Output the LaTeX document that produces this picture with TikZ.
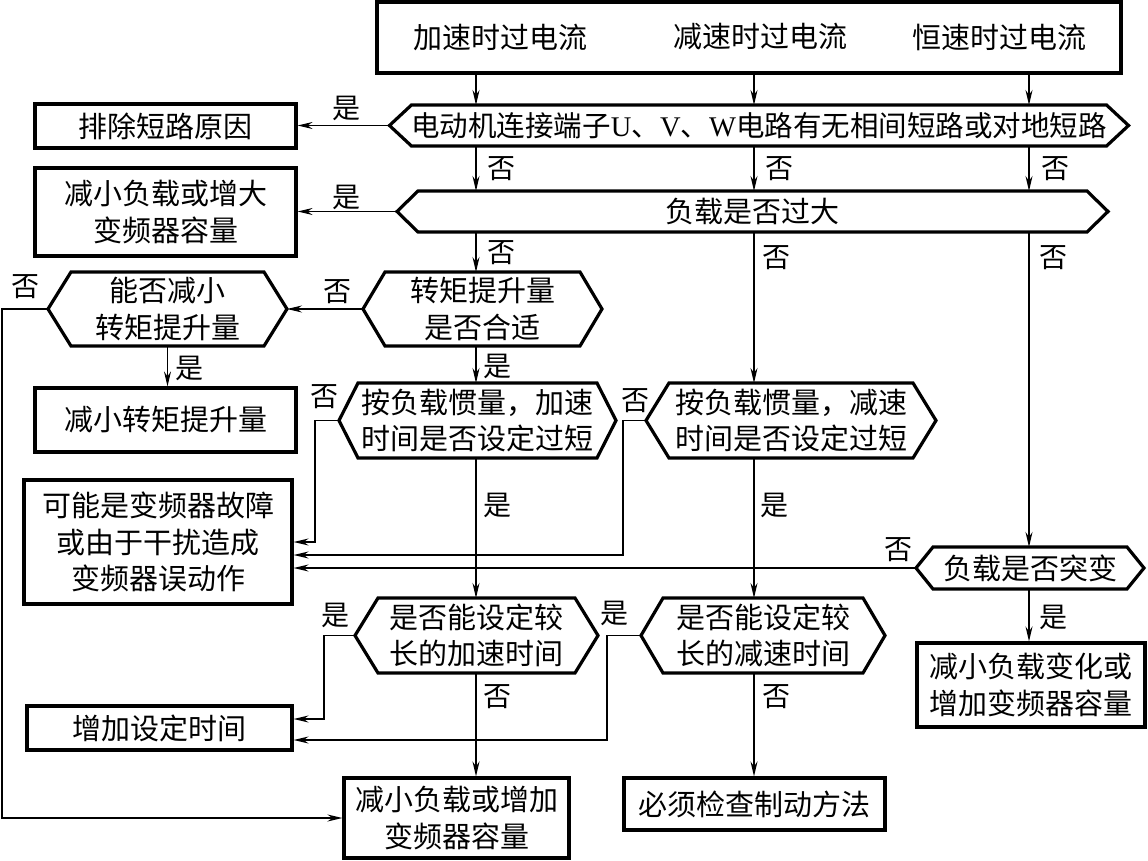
\documentclass[tikz,border=0pt]{standalone}
\usepackage{fontspec}
\setmainfont{Liberation Serif}
\newfontfamily\cjk{Noto Sans CJK SC}
\newfontfamily\lat{Liberation Serif}
\usetikzlibrary{arrows.meta}
\newcommand\hexd[7]{%
  \node[hexbody, minimum width=#4pt, minimum height=#5pt] (#1) at (#2,#3) {#7};
  \coordinate (#1L) at ([xshift=-#6pt]#1.west);
  \coordinate (#1R) at ([xshift=#6pt]#1.east);
  \draw[hexline] (#1.north west) -- (#1.north east) -- (#1R) -- (#1.south east) -- (#1.south west) -- (#1L) -- cycle;
}
\begin{document}
\begin{tikzpicture}[x=1pt,y=-1pt,
  txt/.style={font=\cjk\fontsize{29}{36.5}\selectfont, align=center, inner sep=0pt},
  boxn/.style={txt, draw, line width=3.2pt, rectangle},
  hexbody/.style={txt, outer sep=0pt},
  hexline/.style={line width=3.2pt, line join=miter},
  conn/.style={line width=1.3pt},
  arr/.style={conn, -{Stealth[length=15pt,width=7pt,inset=5pt]}},
  lbl/.style={font=\cjk\fontsize{28}{30}\selectfont, inner sep=0pt}]
\useasboundingbox (0,0) rectangle (1148,861);

% column coordinates
\coordinate (cA) at (476,0);
\coordinate (cB) at (754,0);
\coordinate (cC) at (1029,0);
\coordinate (xL) at (2,0);
\coordinate (xD5) at (315,0);
\coordinate (xD6) at (623,0);
\coordinate (xD8) at (324,0);
\coordinate (xD9) at (607,0);

% top box
\node[boxn, minimum width=744pt, minimum height=71pt] (top) at (749,37.5) {};
\node[txt] (t1) at (500,37) {加速时过电流};
\node[txt] (t2) at (760,37) {减速时过电流};
\node[txt] (t3) at (999,37) {恒速时过电流};

% rectangles
\node[boxn, minimum width=261pt, minimum height=44pt] (b1) at (165.5,126) {排除短路原因};
\node[boxn, minimum width=261pt, minimum height=88pt] (b2) at (165.5,212) {减小负载或增大\\变频器容量};
\node[boxn, minimum width=261pt, minimum height=64pt] (b3) at (165.5,420) {减小转矩提升量};
\node[boxn, minimum width=268pt, minimum height=124pt] (b4) at (158,542) {可能是变频器故障\\或由于干扰造成\\变频器误动作};
\node[boxn, minimum width=228pt, minimum height=84pt] (b5) at (1031,685) {减小负载变化或\\增加变频器容量};
\node[boxn, minimum width=265pt, minimum height=44pt] (b6) at (159.5,728) {增加设定时间};
\node[boxn, minimum width=225pt, minimum height=80pt] (b7) at (456.5,818) {减小负载或增加\\变频器容量};
\node[boxn, minimum width=261pt, minimum height=52pt] (b8) at (754.5,804) {必须检查制动方法};

% hexagons
\hexd{D1}{759}{125.5}{682}{41}{22}{\fontsize{28.5}{36}\selectfont 电动机连接端子{\lat U}、{\lat V}、{\lat W}电路有无相间短路或对地短路}
\hexd{D2}{752.5}{211.5}{669}{41}{21}{负载是否过大}
\hexd{D3}{482.5}{309}{195}{74}{22}{转矩提升量\\是否合适}
\hexd{D4}{167.5}{309}{193}{74}{23}{能否减小\\转矩提升量}
\hexd{D5}{477.5}{420.5}{239}{75}{19}{按负载惯量，加速\\时间是否设定过短}
\hexd{D6}{791}{420.5}{244}{75}{23}{按负载惯量，减速\\时间是否设定过短}
\hexd{D7}{1030}{568}{194}{42}{17}{负载是否突变}
\hexd{D8}{476.5}{635.5}{197}{75}{23}{是否能设定较\\长的加速时间}
\hexd{D9}{763}{635.5}{200}{75}{22}{是否能设定较\\长的减速时间}

% connectors: top to D1
\draw[arr] (top.south -| cA) -- (D1.north -| cA);
\draw[arr] (top.south -| cB) -- (D1.north -| cB);
\draw[arr] (top.south -| cC) -- (D1.north -| cC);
% D1
\draw[arr] (D1L) -- (D1L -| b1.east);
\draw[arr] (D1.south -| cA) -- (D2.north -| cA);
\draw[arr] (D1.south -| cB) -- (D2.north -| cB);
\draw[arr] (D1.south -| cC) -- (D2.north -| cC);
% D2
\draw[arr] (D2L) -- (D2L -| b2.east);
\draw[arr] (D2.south -| cA) -- (D3.north -| cA);
\draw[arr] (D2.south -| cB) -- (D6.north -| cB);
\draw[arr] (D2.south -| cC) -- (D7.north -| cC);
% D3
\draw[arr] (D3L) -- (D4R);
\draw[arr] (D3.south -| cA) -- (D5.north -| cA);
% D4
\draw[arr] (D4L) -- (D4L -| xL) |- (b7.west);
\draw[arr] (D4.south) -- (D4.south |- b3.north);
% D5, D6, D7 to b4
\draw[arr] (D5L) -- (D5L -| xD5) |- (b4.east);
\draw[arr] (D6L) -- (D6L -| xD6) |- ([yshift=-13pt]b4.east);
\draw[arr] (D7L) -- (D7L -| b4.east);
\draw[arr] (D5.south -| cA) -- (D8.north -| cA);
\draw[arr] (D6.south -| cB) -- (D9.north -| cB);
\draw[arr] (D7.south -| cC) -- (b5.north -| cC);
% D8, D9
\draw[arr] (D8L) -- (D8L -| xD8) |- ([yshift=9pt]b6.east);
\draw[arr] (D9L) -- (D9L -| xD9) |- ([yshift=-12pt]b6.east);
\draw[arr] (D8.south -| cA) -- (b7.north -| cA);
\draw[arr] (D9.south -| cB) -- (b8.north -| cB);

% labels
\node[lbl] (l1) at (346,108) {是};
\node[lbl] (l2) at (346,197) {是};
\node[lbl] (l3) at (501,169) {否};
\node[lbl] (l4) at (779,169) {否};
\node[lbl] (l5) at (1055,169) {否};
\node[lbl] (l6) at (501,253) {否};
\node[lbl] (l7) at (776,258) {否};
\node[lbl] (l8) at (1053,258) {否};
\node[lbl] (l9) at (337,292) {否};
\node[lbl] (l10) at (25,287) {否};
\node[lbl] (l11) at (189,368) {是};
\node[lbl] (l12) at (497,366) {是};
\node[lbl] (l13) at (324,397) {否};
\node[lbl] (l14) at (635,401) {否};
\node[lbl] (l15) at (898,550) {否};
\node[lbl] (l16) at (497,505) {是};
\node[lbl] (l17) at (774,505) {是};
\node[lbl] (l18) at (1053,617) {是};
\node[lbl] (l19) at (335,615) {是};
\node[lbl] (l20) at (614,613) {是};
\node[lbl] (l21) at (497,697) {否};
\node[lbl] (l22) at (776,697) {否};
\end{tikzpicture}
\end{document}
